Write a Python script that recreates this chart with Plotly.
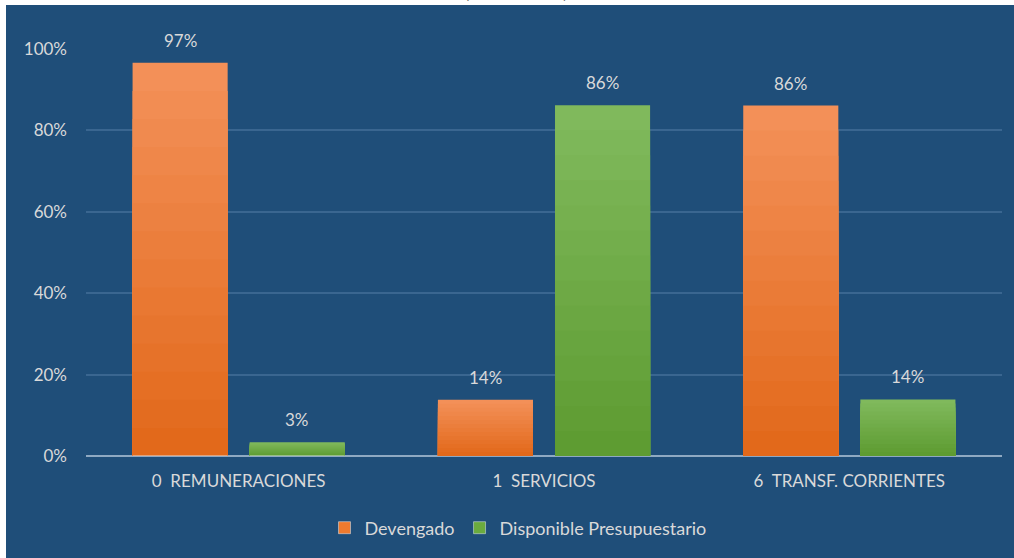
import plotly.graph_objects as go

categories = ["0\u00a0 REMUNERACIONES", "1\u00a0 SERVICIOS", "6\u00a0 TRANSF. CORRIENTES"]
devengado = [96.6, 13.8, 86.1]
disponible = [3.4, 86.2, 13.9]
series_names = ["Devengado", "Disponible Presupuestario"]
y_ticks = [0, 20, 40, 60, 80, 100]
y_tick_labels = ["0%", "20%", "40%", "60%", "80%", "100%"]
title_text = "(Porcentual)"

W, H = 1014, 558
L, R, T, B = 86, 12, 49, 102
BG = "#1F4E79"
TXT = "#D9D9D9"
FONT = "Lato, Calibri, Carlito, sans-serif"


def lerp(c1, c2, t):
    a = [int(c1[i:i + 2], 16) for i in (1, 3, 5)]
    b = [int(c2[i:i + 2], 16) for i in (1, 3, 5)]
    return "rgb(%d,%d,%d)" % tuple(round(a[j] + (b[j] - a[j]) * t) for j in range(3))


fig = go.Figure()
N = 14
specs = [
    (series_names[0], devengado, "#F39058", "#E2691B", "#EE7A2E", "a"),
    (series_names[1], disponible, "#80B95C", "#5E9C32", "#6AAB3E", "b"),
]
for name, vals, top, bot, legc, grp in specs:
    for k in range(N):
        f = 1 - k / N
        fig.add_trace(go.Bar(
            x=categories, y=[v * f for v in vals], name=name,
            offsetgroup=grp, marker=dict(color=lerp(top, bot, k / (N - 1)), line=dict(width=0)),
            showlegend=False, hoverinfo="skip",
        ))
    # legend entry
    fig.add_trace(go.Bar(x=[categories[0]], y=[0], name=name, offsetgroup=grp,
                         marker=dict(color=legc), showlegend=True,
                         hoverinfo="skip"))

# data labels
for vals, shift in ((devengado, -58.5), (disponible, 58.5)):
    for c, v in zip(categories, vals):
        fig.add_annotation(x=c, y=v, text=f"{round(v)}%", showarrow=False,
                           xshift=shift, yanchor="bottom", yshift=10,
                           font=dict(family=FONT, size=17, color=TXT))

plot_h = H - T - B
plot_w = W - L - R


def px_x(p):
    return (p - L) / plot_w


def px_y(p):
    return (H - B - p) / plot_h


# white strips framing the dark panel (top and left)
fig.add_shape(type="rect", xref="paper", yref="paper",
              x0=px_x(-5), x1=px_x(W + 5), y0=px_y(5), y1=px_y(-5),
              fillcolor="white", line=dict(width=0), layer="below")
fig.add_shape(type="rect", xref="paper", yref="paper",
              x0=px_x(-5), x1=px_x(6), y0=px_y(H + 5), y1=px_y(-5),
              fillcolor="white", line=dict(width=0), layer="below")

fig.add_annotation(xref="paper", yref="paper", x=px_x(516),
                   y=px_y(4), yanchor="bottom", showarrow=False,
                   text=title_text, font=dict(family=FONT, size=20, color="#222222"))

fig.update_layout(
    width=W, height=H,
    margin=dict(l=L, r=R, t=T, b=B, pad=0),
    paper_bgcolor=BG, plot_bgcolor="rgba(0,0,0,0)",
    barmode="group", bargap=0.233, bargroupgap=0.188,
    font=dict(family=FONT, size=17, color=TXT),
    legend=dict(orientation="h", x=px_x(518), xanchor="center",
                y=px_y(528), yanchor="middle",
                font=dict(family=FONT, size=18, color=TXT),
                bgcolor="rgba(0,0,0,0)", itemwidth=30),
    xaxis=dict(showgrid=False, showline=False, ticks="outside", ticklen=10,
               tickcolor="rgba(0,0,0,0)", tickfont=dict(family=FONT, size=17, color=TXT)),
    yaxis=dict(range=[0, 100], tickvals=y_ticks, ticktext=y_tick_labels,
               showgrid=True, gridcolor="#3A6690", gridwidth=1.5,
               zeroline=True, zerolinecolor="#8FA9C2", zerolinewidth=2,
               showline=False, ticklabelstandoff=18,
               tickfont=dict(family=FONT, size=17, color=TXT)),
    showlegend=True,
)

fig.write_html(
    "out.html",
    config={"displayModeBar": False},
    post_script=("document.body.style.margin='0';document.body.style.padding='0';"
                 "document.body.style.overflow='hidden';"
                 "document.documentElement.style.background='" + BG + "';"
                 "document.documentElement.style.overflow='hidden';"
                 "document.body.style.background='" + BG + "';"),
)
